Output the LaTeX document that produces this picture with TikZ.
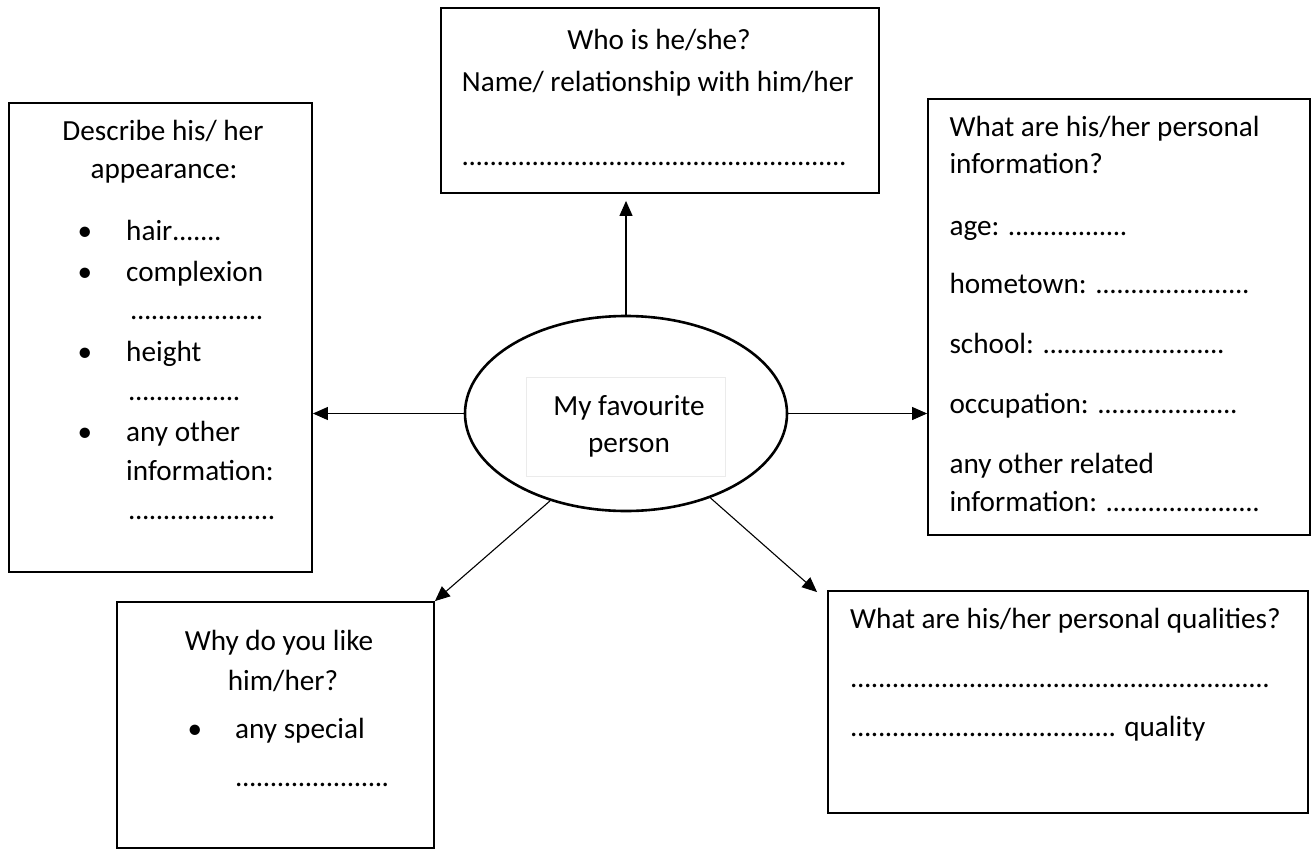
\documentclass[tikz,border=0pt]{standalone}
\usepackage{fontspec}
\setmainfont{Carlito}
\usepackage{tikz}
\usetikzlibrary{shapes.geometric, arrows.meta}

% a row of dots to write on
\newcommand{\fillin}[1]{\makebox[#1][l]{\leaders\hbox to 7pt{\hss.\hss}\hfill}}

\tikzset{
	box/.style={draw, line width=1.8pt, inner sep=0pt},
	txt/.style={anchor=base west, inner sep=0pt, font=\fontsize{29.2}{40}\selectfont},
	mid/.style={txt, anchor=base},
	link/.style={->, line width=1.1pt}
}

\begin{document}
\begin{tikzpicture}[x=1pt, y=-1pt, >={Triangle[length=15pt, width=13pt]}]

		\useasboundingbox (0,0) rectangle (1316,851);

		% Centre: ellipse
		\node[ellipse, draw, line width=2.6pt, inner sep=0pt, minimum width=322pt, minimum height=195pt] (me) at (626,413.5) {};
		\node[draw=black!8, line width=1pt, minimum width=199pt, minimum height=99pt] (meBox) at (625.5,427.3) {};
		\node[mid] (me1) at (629,415) {My favourite};
		\node[mid] (me2) at (629,452.7) {person};

		% Box 1: who
		\node[box, minimum width=438pt, minimum height=185pt] (who) at (660,100.5) {};
		\node[mid] (who1) at (659,49) {Who is he/she?};
		\node[txt] (who2) at (461.7,91) {Name/ relationship with him/her};
		\node[txt] (who3) at (461.7,165.7) {\fillin{391pt}};

		% Box 2: looks
		\node[box, minimum width=303pt, minimum height=469pt] (looks) at (160.5,337.5) {};
		\node[mid] (looks1) at (163,140) {Describe his/ her};
		\node[mid] (looks2) at (164,178.3) {appearance:};
		\foreach \y in {240,281.7,361.7,441.7} {
				\node[mid] at (85,\y) {•};
			}
		\node[txt] (looks3) at (126,240) {hair\fillin{55pt}};
		\node[txt] (looks4) at (126,281.7) {complexion};
		\node[txt] (looks5) at (130,319.3) {\fillin{133pt}};
		\node[txt] (looks6) at (126,361.7) {height};
		\node[txt] (looks7) at (128,400) {\fillin{112pt}};
		\node[txt] (looks8) at (126,441.7) {any other};
		\node[txt] (looks9) at (126,480) {information:};
		\node[txt] (looks10) at (128,519.3) {\fillin{153pt}};

		% Box 3: info
		\node[box, minimum width=382pt, minimum height=436pt] (info) at (1119,317) {};
		\node[txt] (info1) at (949.3,136.7) {What are his/her personal};
		\node[txt] (info2) at (949.3,173.3) {information?};
		\node[txt] (info3) at (949.3,235) {age: \fillin{123pt}};
		\node[txt] (info4) at (949.3,293.3) {hometown: \fillin{158pt}};
		\node[txt] (info5) at (949.3,353.3) {school: \fillin{185pt}};
		\node[txt] (info6) at (949.3,413.3) {occupation: \fillin{145pt}};
		\node[txt] (info7) at (949.3,473.3) {any other related};
		\node[txt] (info8) at (949.3,511.7) {information: \fillin{157pt}};

		% Box 4: why
		\node[box, minimum width=317pt, minimum height=246pt] (why) at (275.5,725) {};
		\node[mid] (why1) at (279,650) {Why do you like};
		\node[mid] (why2) at (283,690) {him/her?};
		\node[mid] (whyDot) at (195,738.3) {•};
		\node[txt] (why3) at (235,738.3) {any special};
		\node[txt] (why4) at (235,786.7) {\fillin{154pt}};

		% Box 5: qualities
		\node[box, minimum width=480pt, minimum height=222pt] (qual) at (1068,702) {};
		\node[txt] (qual1) at (850,628.3) {What are his/her personal qualities?};
		\node[txt] (qual2) at (850,687.3) {\fillin{422pt}};
		\node[txt] (qual3) at (850,736.7) {\fillin{268pt} quality};

		% --- Arrows ---
		\coordinate (whyTip) at (why.north east);
		\coordinate (qualTip) at ([shift={(-10pt,-2pt)}] qual.north west);
		\coordinate (whoTip) at ([yshift=-7pt] who.south);

		\draw[link] (me.north) -- (me.north |- whoTip);
		\draw[link] (me.west) -- (me.west -| looks.east);
		\draw[link] (me.east) -- (me.east -| info.west);
		\draw[link] (me.229) -- (whyTip);
		\draw[link] (me.315) -- (qualTip);

	\end{tikzpicture}
\end{document}
